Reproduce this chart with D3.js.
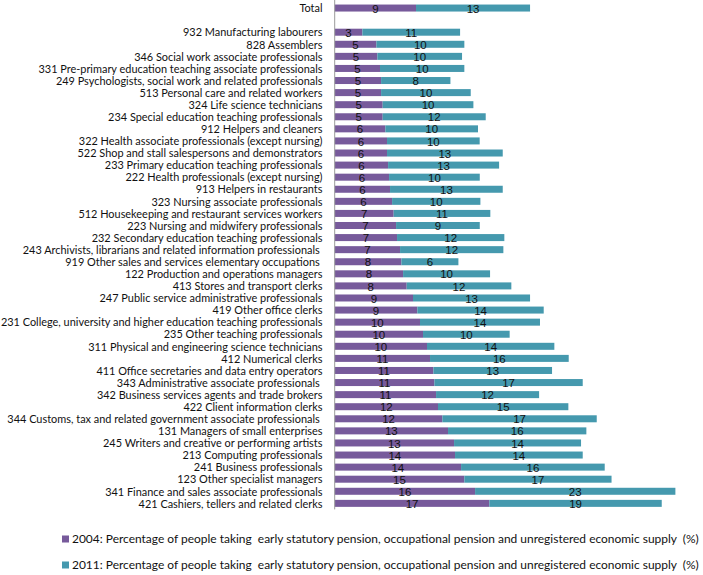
<!DOCTYPE html>
<html>
<head>
<meta charset="utf-8">
<script src="https://cdn.jsdelivr.net/npm/d3@7"></script>
<style>
  html, body { margin: 0; padding: 0; background: #ffffff; }
  svg { display: block; }
  text { white-space: pre; }
</style>
</head>
<body>
<svg id="chart" width="703" height="575"></svg>
<script>
// ---- data ----
const categories = [
  "Total",
  "",
  "932 Manufacturing labourers",
  "828 Assemblers",
  "346 Social work associate professionals",
  "331 Pre-primary education teaching associate professionals",
  "249 Psychologists, social work and related professionals",
  "513 Personal care and related workers",
  "324 Life science technicians",
  "234 Special education teaching professionals",
  "912 Helpers and cleaners",
  "322 Health associate professionals (except nursing)",
  "522 Shop and stall salespersons and demonstrators",
  "233 Primary education teaching professionals",
  "222 Health professionals (except nursing)",
  "913 Helpers in restaurants",
  "323 Nursing associate professionals",
  "512 Housekeeping and restaurant services workers",
  "223 Nursing and midwifery professionals",
  "232 Secondary education teaching professionals",
  "243 Archivists, librarians and related information professionals ",
  "919 Other sales and services elementary occupations ",
  "122 Production and operations managers",
  "413 Stores and transport clerks",
  "247 Public service administrative professionals",
  "419 Other office clerks",
  "231 College, university and higher education teaching professionals",
  "235 Other teaching professionals",
  "311 Physical and engineering science technicians",
  "412 Numerical clerks",
  "411 Office secretaries and data entry operators",
  "343 Administrative associate professionals ",
  "342 Business services agents and trade brokers",
  "422 Client information clerks",
  "344 Customs, tax and related government associate professionals ",
  "131 Managers of small enterprises",
  "245 Writers and creative or performing artists",
  "213 Computing professionals",
  "241 Business professionals",
  "123 Other specialist managers",
  "341 Finance and sales associate professionals",
  "421 Cashiers, tellers and related clerks"
];
const values2004 = [9.17, null, 3.12, 4.70, 4.81, 5.11, 5.23, 5.23, 5.41, 5.41, 5.71, 5.90, 5.90, 6.02, 6.13, 6.24, 6.47, 6.65, 6.92, 7.03, 7.37, 7.52, 7.71, 8.12, 8.83, 9.32, 9.62, 9.96, 10.41, 10.75, 11.13, 11.24, 11.43, 11.65, 12.14, 12.78, 13.46, 13.57, 14.25, 14.62, 15.83, 17.44];
const values2011 = [12.86, null, 11.02, 9.92, 9.55, 9.51, 7.82, 10.11, 10.23, 11.62, 10.45, 10.45, 13.05, 12.52, 10.23, 12.71, 9.96, 10.9, 9.44, 12.1, 11.65, 6.43, 9.81, 11.8, 13.2, 14.25, 13.53, 9.77, 14.36, 15.64, 13.38, 16.73, 11.62, 14.7, 17.41, 15.6, 14.32, 14.4, 16.2, 16.6, 22.59, 19.44];
const seriesNames = [
  "2004: Percentage of people taking  early statutory pension, occupational pension and unregistered economic supply  (%)",
  "2011: Percentage of people taking  early statutory pension, occupational pension and unregistered economic supply  (%)"
];
const seriesColors = ["#775a9b", "#4599ae"];

// ---- layout ----
const svg = d3.select("#chart");
const x0 = 334.7;
const x = d3.scaleLinear().domain([0, 40]).range([x0, x0 + 354.7]);
const y = d3.scaleBand().domain(categories.map((c, i) => i)).range([2, 509.4])
  .paddingInner(0.42).paddingOuter(0.21);

const rows = categories.map((c, i) => ({ cat: c, i: i, a: values2004[i], b: values2011[i] }))
  .filter(d => d.a !== null);

const valueFont = "'Liberation Sans', Arial, sans-serif";
const labelFont = "Lato, 'Open Sans', sans-serif";

// bars
const g = svg.append("g");
g.selectAll("rect.s04").data(rows).join("rect")
  .attr("class", "s04")
  .attr("x", d => x(0)).attr("y", d => y(d.i))
  .attr("width", d => x(d.a) - x(0)).attr("height", y.bandwidth())
  .attr("fill", seriesColors[0]);
g.selectAll("rect.s11").data(rows).join("rect")
  .attr("class", "s11")
  .attr("x", d => x(d.a)).attr("y", d => y(d.i))
  .attr("width", d => x(d.a + d.b) - x(d.a)).attr("height", y.bandwidth())
  .attr("fill", seriesColors[1]);

// axis line
svg.append("line")
  .attr("x1", x0).attr("x2", x0).attr("y1", 0).attr("y2", 509.4)
  .attr("stroke", "#9a9a9a").attr("stroke-width", 1);

// value labels
const fmt = v => d3.format("d")(Math.round(v));
g.selectAll("text.v04").data(rows).join("text")
  .attr("class", "v04")
  .attr("x", d => (x(0) + x(d.a)) / 2)
  .attr("y", d => y(d.i) + y.bandwidth() / 2)
  .attr("dy", "0.4em")
  .attr("text-anchor", "middle")
  .style("font-family", valueFont).style("font-size", "11.5px").attr("fill", "#111")
  .text(d => fmt(d.a));
g.selectAll("text.v11").data(rows).join("text")
  .attr("class", "v11")
  .attr("x", d => (x(d.a) + x(d.a + d.b)) / 2)
  .attr("y", d => y(d.i) + y.bandwidth() / 2)
  .attr("dy", "0.4em")
  .attr("text-anchor", "middle")
  .style("font-family", valueFont).style("font-size", "11.5px").attr("fill", "#111")
  .text(d => fmt(d.b));

// category labels (fitted horizontally to the available width)
const lab = svg.append("g");
const labels = lab.selectAll("text").data(categories.map((c, i) => ({ c, i }))).join("text")
  .attr("x", 0)
  .attr("y", d => y(d.i) + y.bandwidth() / 2)
  .attr("dy", "0.37em")
  .attr("text-anchor", "end")
  .style("font-family", labelFont).style("font-size", "11.5px").attr("fill", "#111")
  .text(d => d.c);
let maxW = 0;
labels.each(function () { maxW = Math.max(maxW, this.getComputedTextLength()); });
const sx = Math.min(1, 322 / maxW);
lab.attr("transform", `translate(322.5,0) scale(${sx},1)`);

// legend
const legend = svg.append("g");
const legY = [539, 565];
seriesNames.forEach((name, k) => {
  legend.append("rect")
    .attr("x", 62).attr("y", legY[k] - 3.5).attr("width", 7).attr("height", 7)
    .attr("fill", seriesColors[k]);
  const tg = legend.append("g");
  const t = tg.append("text")
    .attr("x", 0).attr("y", legY[k]).attr("dy", "0.35em")
    .style("font-family", labelFont).style("font-size", "11.8px").attr("fill", "#111")
    .text(name);
  const w = t.node().getComputedTextLength();
  const s = 627 / w;
  tg.attr("transform", `translate(72,0) scale(${s},1)`);
});
</script>
</body>
</html>
